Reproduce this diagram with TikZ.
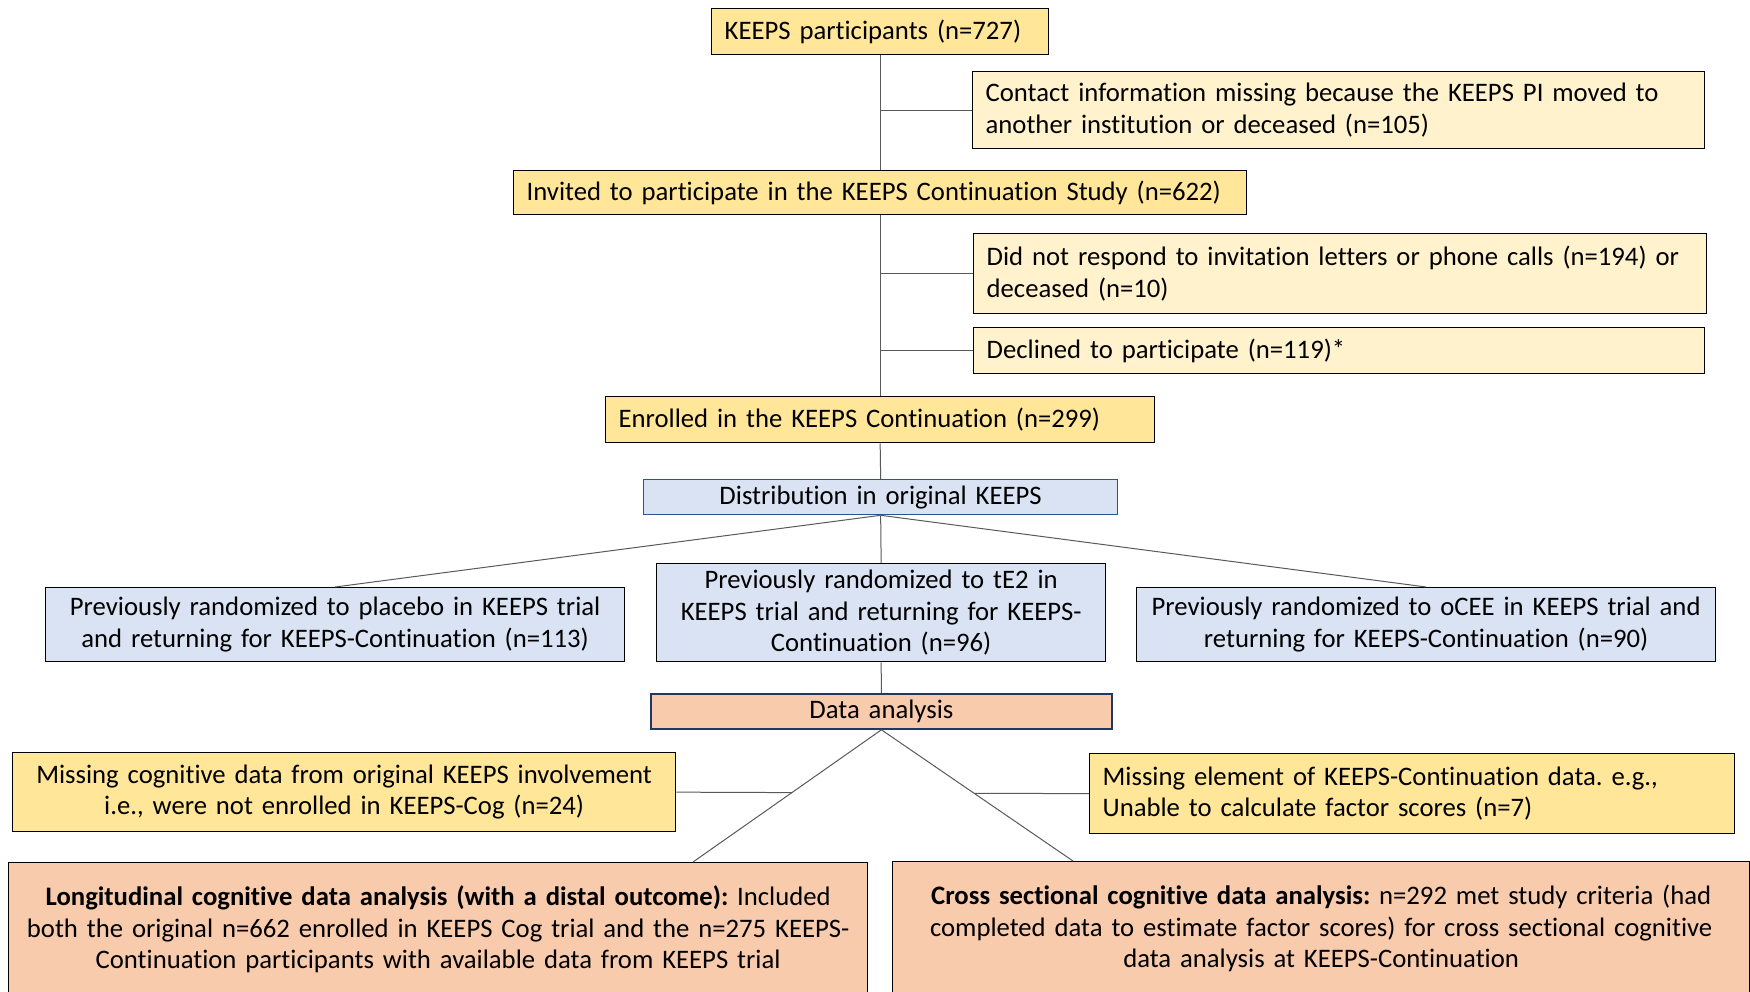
\documentclass[tikz,border=0pt]{standalone}
\usepackage{fontspec}
\setmainfont{Carlito}[Ligatures=NoCommon]
\definecolor{ydark}{HTML}{FFE699}
\definecolor{ylight}{HTML}{FFF2CC}
\definecolor{bfill}{HTML}{DAE3F3}
\definecolor{ofill}{HTML}{F8CBAD}
\definecolor{bline}{HTML}{2F528F}
\definecolor{nline}{HTML}{203864}
\definecolor{conn}{HTML}{595959}
\frenchspacing
\tikzset{
  box/.style={draw=black, line width=1.3pt, anchor=north west, inner xsep=13pt, inner ysep=0pt,
    font=\fontsize{26.7}{31.5}\selectfont},
  ybox/.style={box, fill=ydark},
  lbox/.style={box, fill=ylight},
  bbox/.style={box, fill=bfill},
  obox/.style={box, fill=ofill},
  conline/.style={draw=conn, line width=1pt},
}
\begin{document}
\begin{tikzpicture}[x=1pt,y=-1pt]
\useasboundingbox (0,0) rectangle (1750,992);
\clip (0,0) rectangle (1750,992);
% nodes
\node[ybox, text width=311pt, minimum height=46pt, align=left] (keeps) at (711,8) {KEEPS participants (n=727)};
\node[lbox, text width=706pt, minimum height=77pt, align=left] (contact) at (972,71) {Contact information missing because the KEEPS PI moved to\\another institution or deceased (n=105)};
\node[ybox, text width=707pt, minimum height=44pt, align=left] (invited) at (513,170) {Invited to participate in the KEEPS Continuation Study (n=622)};
\node[lbox, text width=707pt, minimum height=80pt, align=left] (norespond) at (973,233) {Did not respond to invitation letters or phone calls (n=194) or\\deceased (n=10)};
\node[lbox, text width=705pt, minimum height=46pt, align=left] (declined) at (973,327) {Declined to participate (n=119)*};
\node[ybox, text width=523pt, minimum height=46pt, align=left] (enrolled) at (605,396) {Enrolled in the KEEPS Continuation (n=299)};
\node[bbox, draw=bline, text width=448pt, minimum height=35pt, align=center] (dist) at (643,479) {Distribution in original KEEPS};
\node[bbox, text width=553pt, minimum height=74pt, align=center] (placebo) at (45,587) {Previously randomized to placebo in KEEPS trial\\and returning for KEEPS-Continuation (n=113)};
\node[bbox, text width=423pt, minimum height=98pt, align=center] (te2) at (656,563) {Previously randomized to tE2 in\\KEEPS trial and returning for KEEPS-\\Continuation (n=96)};
\node[bbox, text width=553pt, minimum height=74pt, align=center] (ocee) at (1136,587) {Previously randomized to oCEE in KEEPS trial and\\returning for KEEPS-Continuation (n=90)};
\node[obox, draw=nline, line width=1.8pt, text width=435pt, minimum height=35pt, align=center] (data) at (650,693) {Data analysis};
\node[ybox, text width=637pt, minimum height=79pt, align=center] (misscog) at (12,752) {Missing cognitive data from original KEEPS involvement\\i.e., were not enrolled in KEEPS-Cog (n=24)};
\node[ybox, text width=619pt, minimum height=80pt, align=left] (misselem) at (1089,753) {Missing element of KEEPS-Continuation data. e.g.,\\Unable to calculate factor scores (n=7)};
\node[obox, text width=833pt, minimum height=134pt, align=center] (longit) at (8,862) {\textbf{Longitudinal cognitive data analysis (with a distal outcome):} Included\\both the original n=662 enrolled in KEEPS Cog trial and the n=275 KEEPS-\\Continuation participants with available data from KEEPS trial};
\node[obox, text width=831pt, minimum height=134pt, align=center] (cross) at (892,861) {\textbf{Cross sectional cognitive data analysis:} n=292 met study criteria (had\\completed data to estimate factor scores) for cross sectional cognitive\\data analysis at KEEPS-Continuation};
% connector ends
\coordinate (lt) at (693,862);
\coordinate (ct) at (1073,861);
% connectors
\draw[conline] (keeps.south) -- (invited.north);
\draw[conline] (invited.south) -- (enrolled.north);
\draw[conline] (enrolled.south) -- (dist.north);
\draw[conline] (dist.south) -- (te2.north);
\draw[conline] (te2.south) -- (data.north);
\draw[conline] (contact.west) -- (contact.west -| keeps.south);
\draw[conline] (norespond.west) -- (norespond.west -| invited.south);
\draw[conline] (declined.west) -- (declined.west -| invited.south);
\draw[conline] (dist.south) -- (placebo.north);
\draw[conline] (dist.south) -- (ocee.north);
\draw[conline] (data.south) -- (lt);
\draw[conline] (data.south) -- (ct);
\draw[conline] (misscog.east) -- (intersection of misscog.east--misselem.west and data.south--lt);
\draw[conline] (misselem.west) -- (intersection of misscog.east--misselem.west and data.south--ct);
\end{tikzpicture}
\end{document}
